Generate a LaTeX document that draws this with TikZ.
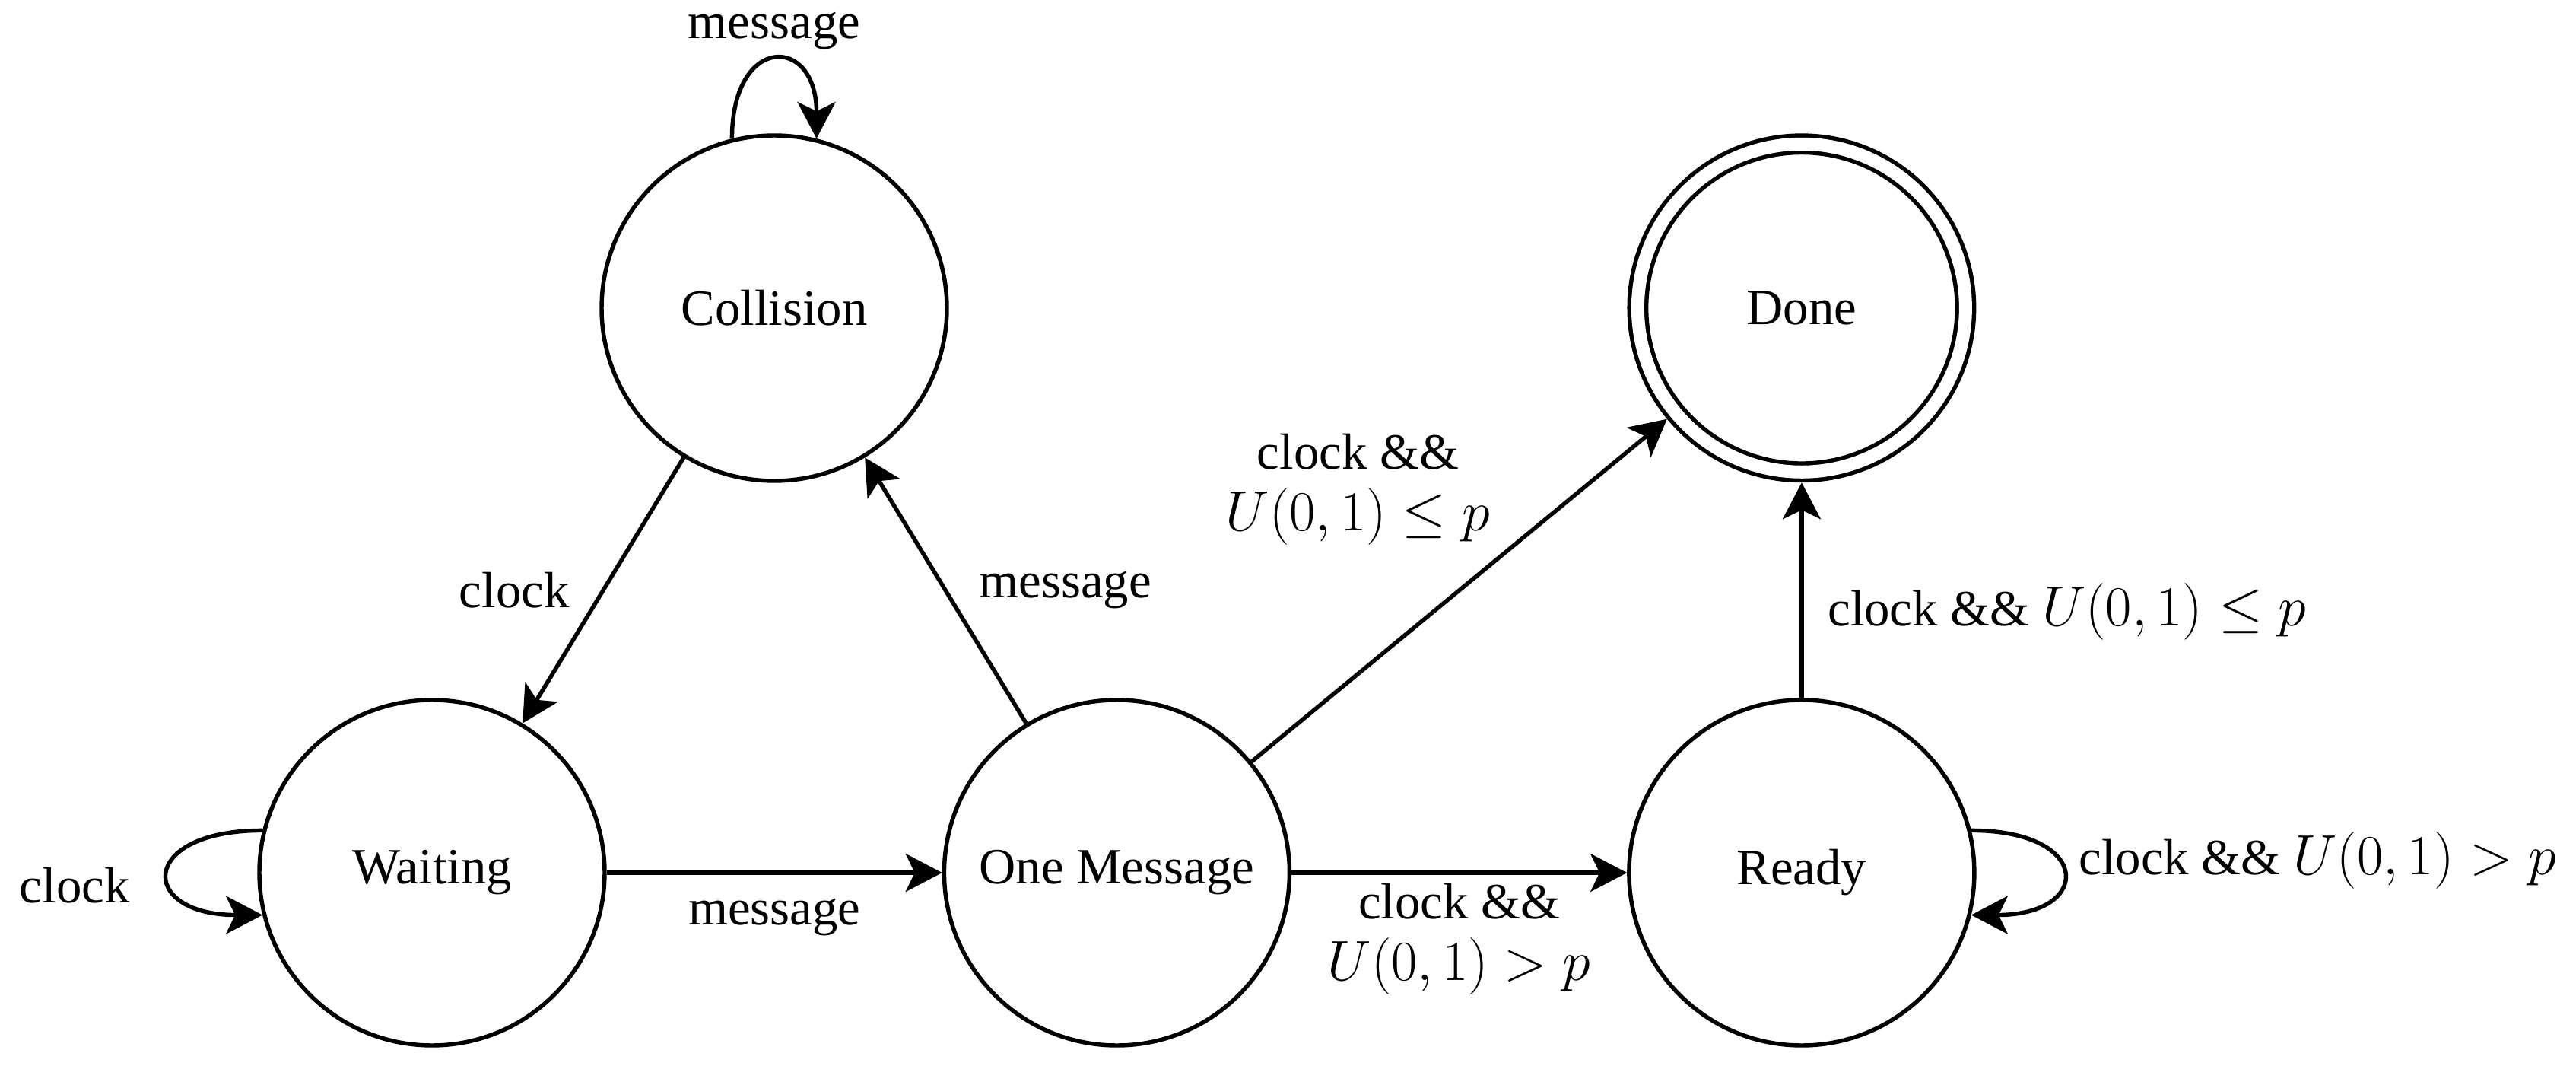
\RequirePackage{fix-cm}
\documentclass[tikz,border=0pt]{standalone}
\usepackage[no-math]{fontspec}
\setmainfont{Liberation Serif}
\DeclareMathSizes{19}{21.2}{15}{11}
\usepackage{tikz}
\usetikzlibrary{arrows.meta, positioning}
\tikzstyle{state} = [circle, minimum size=4.54cm, inner sep=0pt, text centered, draw=black, line width=1.55pt]
\tikzstyle{final} = [state, double, double distance=0.17cm, minimum size=4.31cm, outer sep=0.14cm]
\tikzstyle{trans} = [-{Stealth[length=4.8mm, width=5mm, inset=1.2mm]}, line width=1.55pt]

\begin{document}
\begin{tikzpicture}[node distance=4.41cm]
	\tikzstyle{every node}=[font=\fontsize{19}{23}\selectfont]
	\useasboundingbox (-5.68,-2.53) rectangle (28.19,11.47);

	\node[state] (waiting) at (0,0) {Waiting};
	\node[state, right = of waiting] (onemsg) {One Message};
	\node[state, right = of onemsg] (ready) {Ready};
	\node[final, above = 2.83cm of ready] (done) {Done};
	\node[state] (collision) at (4.5,7.42) {Collision};

	\draw[trans] (collision) -- node[left=0.3cm] {clock} (waiting);
	\draw[trans] (onemsg) -- node[right=0.3cm] {message} (collision);
	\draw[trans] (waiting) -- node[below=0.2cm] {message} (onemsg);
	\draw[trans] (onemsg) -- node[below, align=center] {clock \&\&\\ $U(0,1) > p$} (ready);
	\draw[trans] (onemsg) -- node[pos=0.6, above left=0pt, align=center] {clock \&\&\\ $U(0,1) \leq p$} (done);
	\draw[trans] (ready) -- node[pos=0.4, right=0.2cm] {clock \&\& $U(0,1) \leq p$} (done);

	% self loops
	\draw[trans] (collision.104) .. controls +(0,1.37) and +(0,1.37) .. node[above] {message} (collision.76);
	\draw[trans] (waiting.166) .. controls +(-1.64,0) and +(-1.64,0) .. node[pos=0.6, left=0.42cm] {clock} (waiting.194);
	\draw[trans] (ready.14) .. controls +(1.6,0) and +(1.6,0) .. node[pos=0.4, right=0.12cm] {clock \&\& $U(0,1) > p$} (ready.-14);
\end{tikzpicture}
\end{document}
